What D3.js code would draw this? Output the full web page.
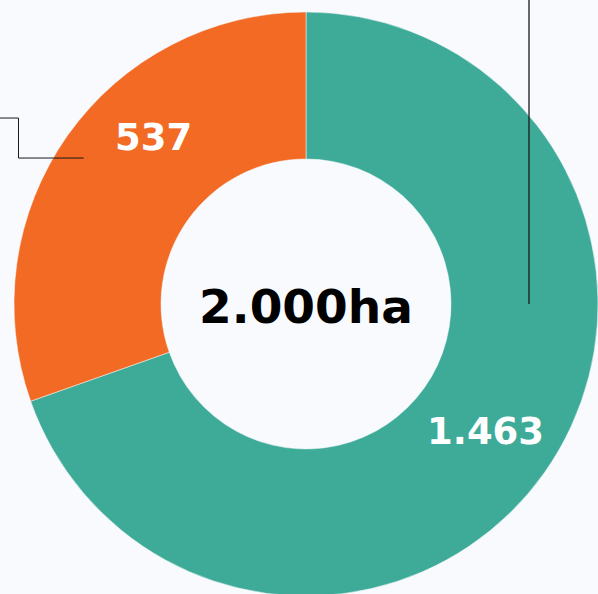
<!DOCTYPE html>
<html>
<head>
<meta charset="utf-8">
<script src="https://cdn.jsdelivr.net/npm/d3@7"></script>
<style>
  html, body { margin: 0; padding: 0; background: #f9fafe; overflow: hidden; }
  svg { display: block; }
</style>
</head>
<body>
<div id="chart"></div>
<script>
// slices (arc share in %) and their printed labels
const categories = ["A", "B"];
const shares = [69.6, 30.4];
const valueLabels = ["1.463", "537"];
const totalLabel = "2.000ha";
const colors = ["#3dab98", "#f26a23"];

const width = 598, height = 594;
const cx = 306, cy = 304;
const outerR = 292, innerR = 145;

const svg = d3.select("#chart").append("svg")
    .attr("width", width)
    .attr("height", height);

svg.append("rect")
    .attr("width", width)
    .attr("height", height)
    .attr("fill", "#f9fafe");

const g = svg.append("g")
    .attr("transform", `translate(${cx},${cy})`);

const pie = d3.pie().sort(null).value(d => d.share);
const data = categories.map((c, i) => ({ cat: c, share: shares[i], label: valueLabels[i] }));
const arcs = pie(data);

const arc = d3.arc().innerRadius(innerR).outerRadius(outerR);

g.selectAll("path.slice")
    .data(arcs)
    .join("path")
    .attr("class", "slice")
    .attr("d", arc)
    .attr("fill", (d, i) => colors[i])
    .attr("stroke", "#f9fafe")
    .attr("stroke-width", 0.5);

// polar helper, angle in radians clockwise from top
function polar(angle, r) {
    return [r * Math.sin(angle), -r * Math.cos(angle)];
}
const mid = d => (d.startAngle + d.endAngle) / 2;
const deg = Math.PI / 180;

// leader lines going out to labels that sit outside the frame
const leader = d3.line();
const tealAnchor = polar(90 * deg, 223);
g.append("path")
    .attr("d", leader([tealAnchor, [tealAnchor[0], -cy - 10]]))
    .attr("fill", "none")
    .attr("stroke", "#1a1a1a")
    .attr("stroke-width", 1.3);

const orangeAnchor = polar(mid(arcs[1]) - 2 * deg, 266);
const elbowX = -cx + 18.5;
g.append("path")
    .attr("d", leader([
        orangeAnchor,
        [elbowX, orangeAnchor[1]],
        [elbowX, orangeAnchor[1] - 40],
        [-cx - 10, orangeAnchor[1] - 40]
    ]))
    .attr("fill", "none")
    .attr("stroke", "#1a1a1a")
    .attr("stroke-width", 1);

// value labels
const labelNudge = [0, 12.3];
const labelR = [220, 226];
g.selectAll("text.value")
    .data(arcs)
    .join("text")
    .attr("class", "value")
    .attr("transform", (d, i) => {
        const p = polar(mid(d) + labelNudge[i] * deg, labelR[i]);
        return `translate(${p[0]},${p[1]})`;
    })
    .attr("text-anchor", "middle")
    .attr("dy", "0.36em")
    .attr("fill", "#ffffff")
    .style("font-family", "Verdana, 'DejaVu Sans', sans-serif")
    .style("font-weight", "bold")
    .style("font-size", "37px")
    .text(d => d.data.label);

// total in the hole
g.append("text")
    .attr("text-anchor", "middle")
    .attr("dy", "0.36em")
    .attr("y", 2)
    .attr("fill", "#000000")
    .style("font-family", "Verdana, 'DejaVu Sans', sans-serif")
    .style("font-weight", "bold")
    .style("font-size", "47px")
    .text(totalLabel);
</script>
</body>
</html>
